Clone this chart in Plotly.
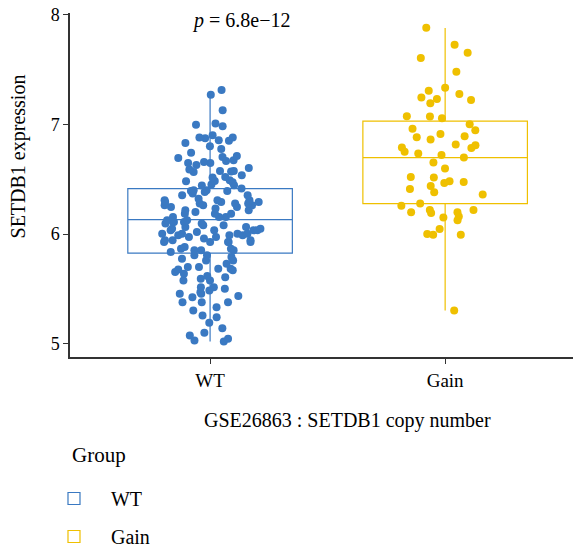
import plotly.graph_objects as go

# ---------------- data ----------------
groups = ["WT", "Gain"]
colors = {"WT": "#3A79C2", "Gain": "#EFC000"}

wt_values = [
    7.314, 7.271, 7.131, 7.009, 6.985, 6.997, 6.881, 6.902, 6.875, 6.857,
    6.881, 6.851, 6.832, 6.802, 6.777, 6.741, 6.704, 6.713, 6.695, 6.674,
    6.667, 6.658, 6.649, 6.649, 6.631, 6.603, 6.589, 6.576, 6.570, 6.537,
    6.521, 6.576, 6.567, 6.516, 6.485, 6.473, 6.482, 6.491, 6.442, 6.451,
    6.445, 6.393, 6.393, 6.354,
    6.399, 6.415, 6.399, 6.384,
    6.216, 6.292, 6.262, 6.232, 6.292, 6.278, 6.323, 6.308, 6.292, 6.216,
    6.354, 6.369, 6.308, 6.278, 6.262, 6.247, 6.186, 6.186, 6.155, 6.034,
    6.095, 6.155, 6.049, 5.988, 6.034, 6.003, 6.018, 6.109, 6.079, 6.125,
    6.064, 6.125, 5.988, 6.079, 5.988, 5.972, 6.049, 5.942, 5.942, 5.927,
    5.866, 5.851, 5.927, 5.942, 5.851, 5.927, 5.881, 5.866, 5.851, 5.759,
    5.759, 5.805, 5.835,
    6.201, 6.262, 6.278, 6.247, 6.308, 6.186, 6.034, 6.003, 5.927, 6.003,
    5.958, 6.034, 5.927, 5.972, 6.003, 6.064, 6.095, 6.109, 6.155, 6.109,
    5.683, 5.616, 5.576, 5.677, 5.668, 5.729, 5.515, 5.515, 5.485, 5.455,
    5.433, 5.378, 5.637, 5.789, 5.683, 5.652, 5.698, 5.698, 5.606, 5.576,
    5.592, 5.775, 5.469, 5.378, 5.302, 5.332, 5.455, 5.500, 5.423, 5.378,
    5.256, 5.241, 5.189, 5.140, 5.043, 5.073, 5.098, 5.027, 5.018, 5.805,
]

gain_values = [
    7.884, 7.728, 7.655, 7.607, 7.481, 7.308, 7.335, 7.278, 7.247, 7.232,
    7.223, 7.195, 7.076, 7.058, 7.073, 7.003, 6.960, 6.948, 6.914, 6.893,
    6.884, 6.817, 6.863, 6.811, 6.790, 6.786, 6.750, 6.722, 6.735, 6.698,
    6.653, 6.598, 6.516, 6.466, 6.482, 6.411, 6.521, 6.475, 6.439, 6.381,
    6.360, 6.278, 6.259, 6.198, 6.192, 6.198, 6.150, 6.219, 6.219, 6.161,
    6.125, 6.046, 5.994, 5.994, 6.000, 5.302,
]

# box statistics
box_q1 = {"WT": 5.826, "Gain": 6.278}
box_median = {"WT": 6.131, "Gain": 6.698}
box_q3 = {"WT": 6.415, "Gain": 7.030}
box_low = {"WT": 5.018, "Gain": 5.302}
box_high = {"WT": 7.271, "Gain": 7.881}

values = {"WT": wt_values, "Gain": gain_values}

p_label = "<i>p</i> = 6.8e\u221212"
y_title = "SETDB1 expression"
x_title = "GSE26863 : SETDB1 copy number"
legend_title = "Group"
y_ticks = [5, 6, 7, 8]

FONT = "Liberation Serif, Times New Roman, serif"
AXIS_COLOR = "#333333"

fig = go.Figure()

for g in groups:
    # box drawn from the statistics
    fig.add_trace(go.Box(
        x=[g], q1=[box_q1[g]], median=[box_median[g]], q3=[box_q3[g]],
        lowerfence=[box_low[g]], upperfence=[box_high[g]],
        name=g, legendgroup=g, showlegend=True,
        width=0.7, whiskerwidth=0,
        line=dict(color=colors[g], width=1.2),
        fillcolor="rgba(255,255,255,0)",
        boxpoints=False, hoverinfo="skip",
    ))
    # jittered points
    fig.add_trace(go.Box(
        x=[g] * len(values[g]), y=values[g],
        name=g, legendgroup=g, showlegend=False,
        width=0.7, boxpoints="all", jitter=0.62, pointpos=0,
        line=dict(color="rgba(0,0,0,0)", width=0),
        fillcolor="rgba(0,0,0,0)",
        marker=dict(color=colors[g], size=8, opacity=1),
    ))

fig.add_annotation(
    text=p_label, xref="paper", yref="y", x=0.335, y=7.954,
    xanchor="center", yanchor="middle", showarrow=False,
    font=dict(family=FONT, size=20, color="black"),
)
fig.add_annotation(
    text=x_title, xref="paper", yref="paper", x=0.544, y=-0.186,
    xanchor="center", yanchor="middle", showarrow=False,
    font=dict(family=FONT, size=20, color="black"),
)
# y-axis title (placed where the reference has it)
fig.add_annotation(
    text=y_title, xref="paper", yref="paper", x=-0.101, y=0.584,
    xanchor="center", yanchor="middle", showarrow=False, textangle=-90,
    font=dict(family=FONT, size=20, color="black"),
)
# legend heading
fig.add_annotation(
    text=legend_title, xref="paper", yref="paper", x=0.0, y=-0.285,
    xanchor="left", yanchor="middle", showarrow=False,
    font=dict(family=FONT, size=21, color="black"),
)

# the page adds an 8px body margin, so the figure is 8px smaller each way
fig.update_layout(
    width=573, height=540,
    margin=dict(l=62, r=0, t=5, b=191, autoexpand=False),
    paper_bgcolor="white", plot_bgcolor="white",
    boxmode="overlay",
    font=dict(family=FONT, size=19, color="black"),
    showlegend=True,
    legend=dict(
        orientation="v", xref="container", yref="container",
        x=0.0506, xanchor="left", y=0.1278, yanchor="top",
        font=dict(family=FONT, size=20), tracegroupgap=9, itemwidth=64,
        bgcolor="rgba(0,0,0,0)",
    ),
    xaxis=dict(
        type="category", categoryorder="array", categoryarray=groups,
        range=[-0.596, 1.578], showgrid=False, zeroline=False, automargin=False,
        showline=True, linecolor=AXIS_COLOR, linewidth=1.5,
        ticks="outside", ticklen=5, tickwidth=1.2, tickcolor=AXIS_COLOR,
        tickfont=dict(family=FONT, size=19, color="black"),
        ticklabeloverflow="allow",
    ),
    yaxis=dict(
        range=[4.877, 8.018], tickvals=y_ticks, showgrid=False, zeroline=False,
        automargin=False,
        showline=True, linecolor=AXIS_COLOR, linewidth=1.5,
        ticks="outside", ticklen=5, tickwidth=1.2, tickcolor=AXIS_COLOR,
        tickfont=dict(family=FONT, size=18, color="black"),
        ticklabeloverflow="allow",
    ),
)

fig.write_html("out.html")
